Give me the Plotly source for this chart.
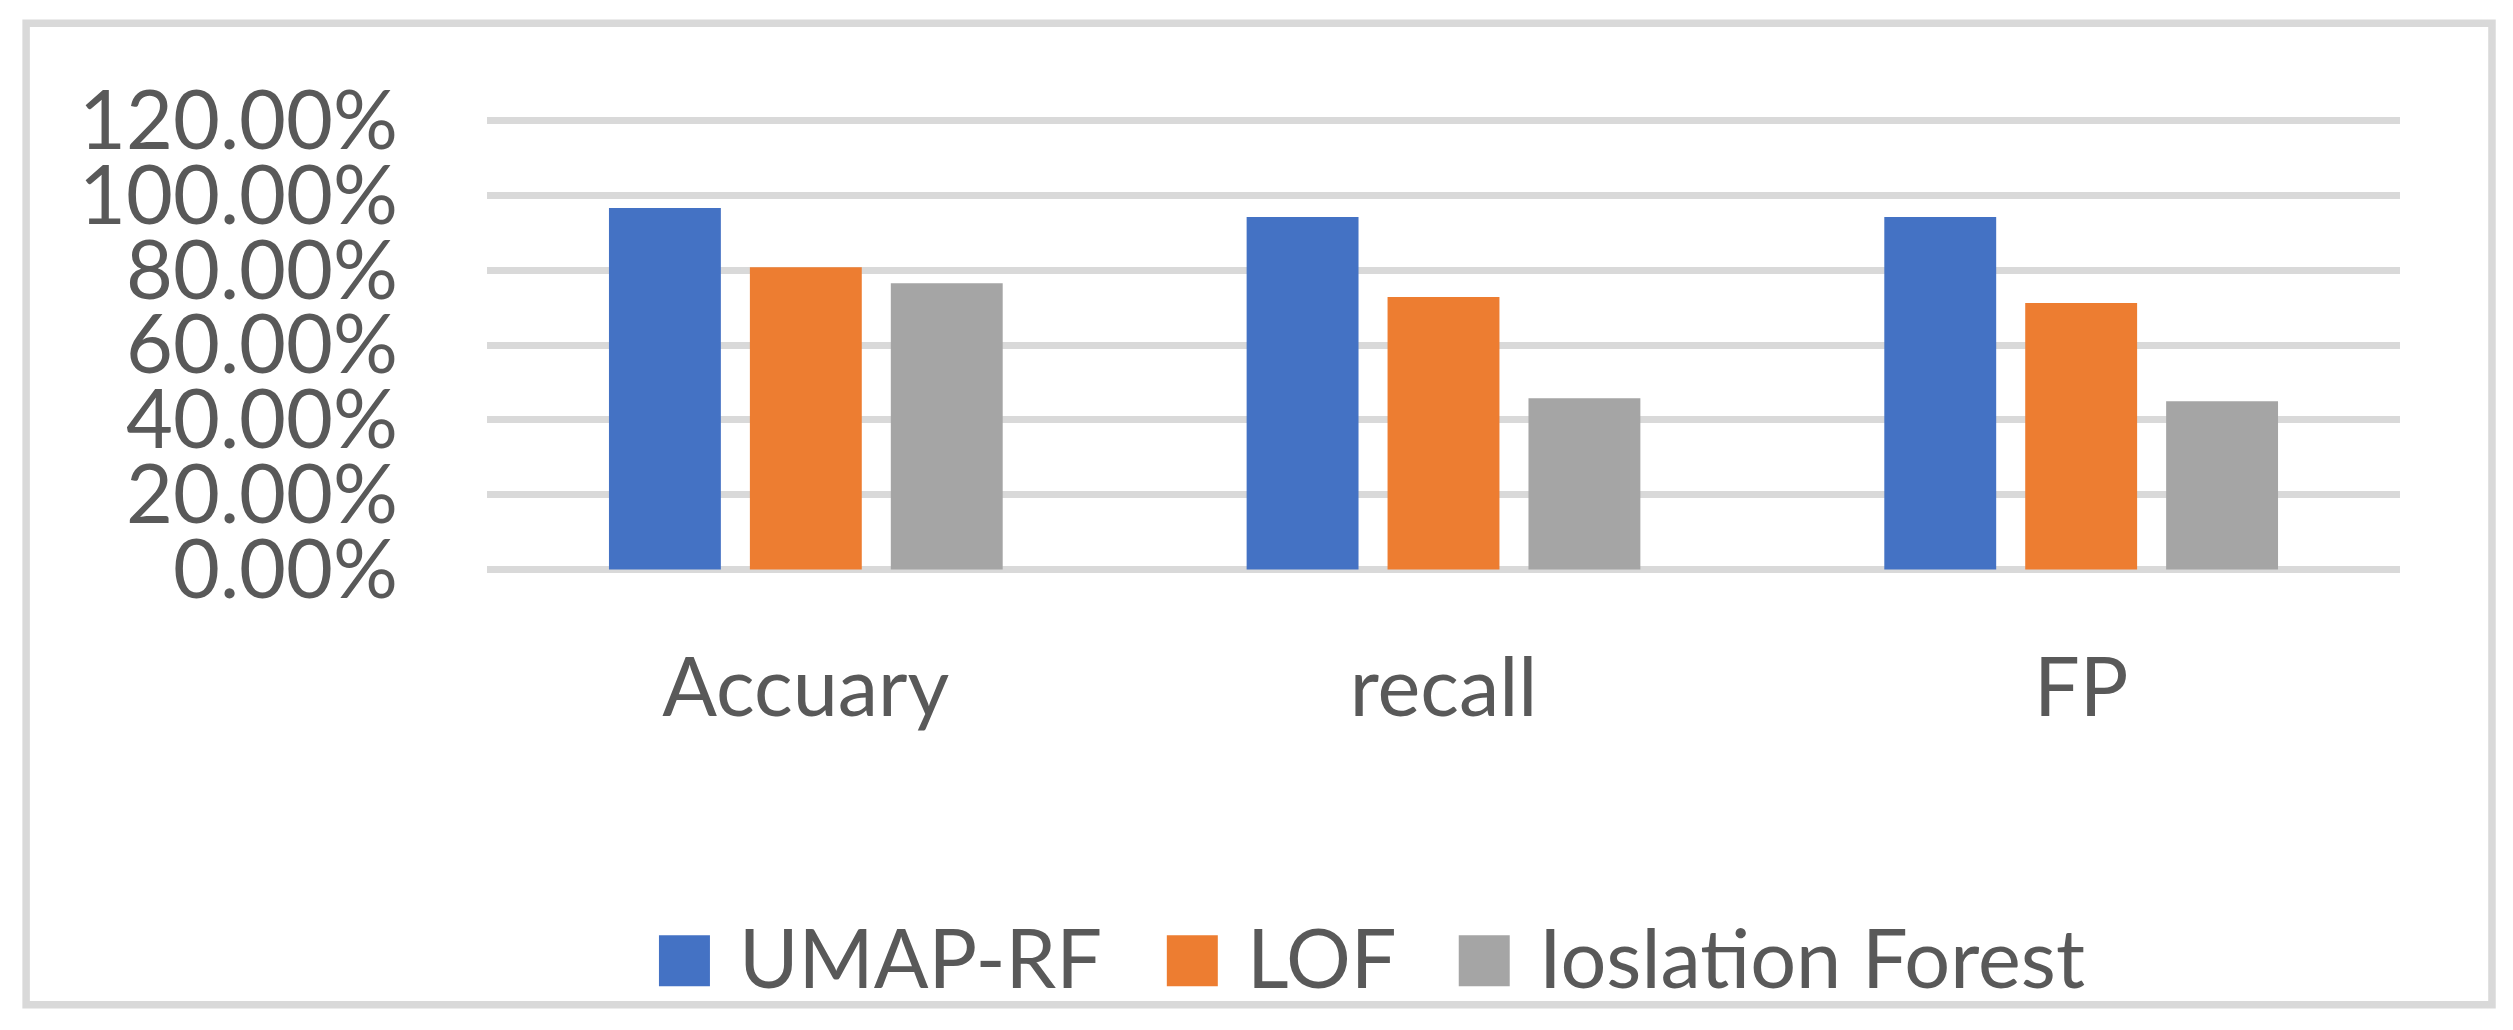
import plotly.graph_objects as go

categories = ["Accuary", "recall", "FP"]
series_names = ["UMAP-RF", "LOF", "Ioslation Forest"]
umap_rf = [0.966, 0.942, 0.942]
lof = [0.808, 0.728, 0.712]
iforest = [0.765, 0.458, 0.450]
series_values = [umap_rf, lof, iforest]
colors = ["#4472C4", "#ED7D31", "#A5A5A5"]
y_tick_vals = [0, 0.2, 0.4, 0.6, 0.8, 1.0, 1.2]
y_tick_text = ["0.00%", "20.00%", "40.00%", "60.00%", "80.00%", "100.00%", "120.00%"]

OFF = 8  # page body margin
W, H = 2513 - 2 * OFF, 1030 - 2 * OFF
# target pixel positions in page coordinates
L, R, T, B = 487 - OFF, 2400.5 - OFF, 120.3 - OFF, 569.3 - OFF
YMAX = 1.2
PAD = 0.012  # small range padding so the top gridline is drawn
ppu = (B - T) / YMAX
T_m = T - PAD * ppu
B_m = B + PAD * ppu

FONT = "Lato"
TXT = "#595959"
GRID = "#D9D9D9"
FS = 81


def px2x(px):
    return (px - OFF - L) / (R - L)


def py2y(py):
    # value in paper coords for a page pixel y
    return (B_m - (py - OFF)) / (B_m - T_m)


fig = go.Figure()
for name, vals, col in zip(series_names, series_values, colors):
    fig.add_trace(go.Bar(x=categories, y=vals, name=name, marker=dict(color=col, line=dict(width=0)),
                         showlegend=False))

shapes = []
annotations = []
# outer chart border
shapes.append(dict(type="rect", xref="paper", yref="paper",
                   x0=px2x(26), x1=px2x(2492.5), y0=py2y(1004.5), y1=py2y(23),
                   line=dict(color=GRID, width=7.5), fillcolor="rgba(0,0,0,0)", layer="below"))

# legend (drawn manually so swatches match the reference size)
leg_sq_left = [659, 1167, 1459]
sq = 51
sq_top, sq_bot = 935, 986
for name, col, x0 in zip(series_names, colors, leg_sq_left):
    shapes.append(dict(type="rect", xref="paper", yref="paper",
                       x0=px2x(x0), x1=px2x(x0 + sq), y0=py2y(sq_bot), y1=py2y(sq_top),
                       line=dict(width=0), fillcolor=col))
    annotations.append(dict(xref="paper", yref="paper", x=px2x(x0 + sq + 27), y=py2y(956),
                            xanchor="left", yanchor="middle", showarrow=False, text=name,
                            font=dict(family=FONT, size=FS, color=TXT)))

fig.update_layout(
    width=W, height=H,
    margin=dict(l=L, r=W - R, t=T_m, b=H - B_m, pad=0),
    paper_bgcolor="white", plot_bgcolor="white",
    barmode="group", bargap=0.337, bargroupgap=0.206,
    showlegend=False,
    shapes=shapes, annotations=annotations,
    font=dict(family=FONT, size=FS, color=TXT),
)
fig.update_yaxes(range=[-PAD, YMAX + PAD], tickvals=y_tick_vals, ticktext=y_tick_text,
                 showgrid=True, gridcolor=GRID, gridwidth=7, zeroline=False, showline=False,
                 ticks="", ticklabelstandoff=88,
                 tickfont=dict(family=FONT, size=FS, color=TXT))
fig.update_xaxes(showgrid=False, showline=False, zeroline=False, ticks="",
                 ticklabelstandoff=60,
                 tickfont=dict(family=FONT, size=FS, color=TXT))

fig.write_html("out.html")
